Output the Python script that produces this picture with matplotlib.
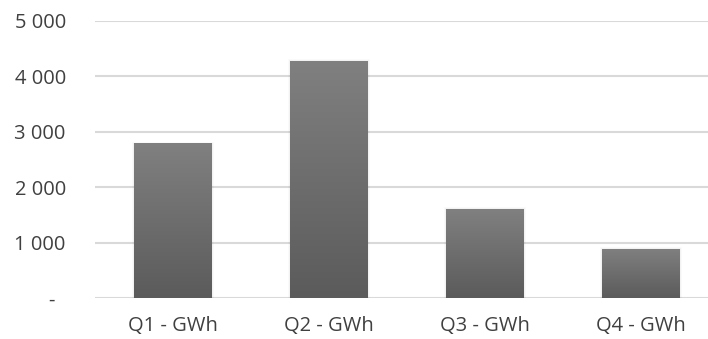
import numpy as np
import matplotlib.pyplot as plt
from matplotlib.patches import Rectangle
from matplotlib.colors import LinearSegmentedColormap

categories = ['Q1 - GWh', 'Q2 - GWh', 'Q3 - GWh', 'Q4 - GWh']
values = [2790, 4285, 1605, 885]
yticks = [0, 1000, 2000, 3000, 4000, 5000]
ytick_labels = ['-  ', '1 000', '2 000', '3 000', '4 000', '5 000']

plt.rcParams['font.family'] = ['Open Sans', 'DejaVu Sans']

fig = plt.figure(figsize=(7.08, 3.39), dpi=100)
W, H = 708, 339
# axes spans one category width per bar; right part runs past the canvas
ax = fig.add_axes([95 / W, (H - 298) / H, 624 / W, (298 - 21) / H])

x = np.arange(len(categories))
bar_w = 0.5

# vertical grey gradient used to fill each bar
grad = np.linspace(0, 1, 256).reshape(-1, 1)
cmap = LinearSegmentedColormap.from_list('g', ['#5b5b5b', '#808080'])

for xi, v in zip(x, values):
    # faint shadow round the bar
    for k, a in enumerate([0.03, 0.02]):
        off = 0.005 * (k + 1)
        ax.add_patch(Rectangle((xi - bar_w / 2 - off, 0), bar_w + 2 * off, v + 15 * (k + 1),
                               facecolor='black', alpha=a, edgecolor='none', zorder=2))
    bar = ax.bar(xi, v, width=bar_w, color='#6e6e6e', zorder=3)[0]
    im = ax.imshow(grad, cmap=cmap, origin='lower', aspect='auto',
                   extent=(xi - bar_w / 2, xi + bar_w / 2, 0, v), zorder=4)
    im.set_clip_path(bar)

ax.set_xlim(-0.5, 3.5)
ax.set_ylim(0, 5000)

ax.set_yticks(yticks)
ax.set_yticklabels(ytick_labels)
ax.set_xticks(x)
ax.set_xticklabels(categories)
ax.tick_params(axis='both', length=0, labelsize=14.5, colors='#404040')
ax.tick_params(axis='y', pad=21)
ax.tick_params(axis='x', pad=13)

ax.grid(axis='y', color='#d9d9d9', linewidth=1.5, zorder=0)
ax.set_axisbelow(True)
for s in ax.spines.values():
    s.set_visible(False)

fig.savefig('out.png', dpi=100)
